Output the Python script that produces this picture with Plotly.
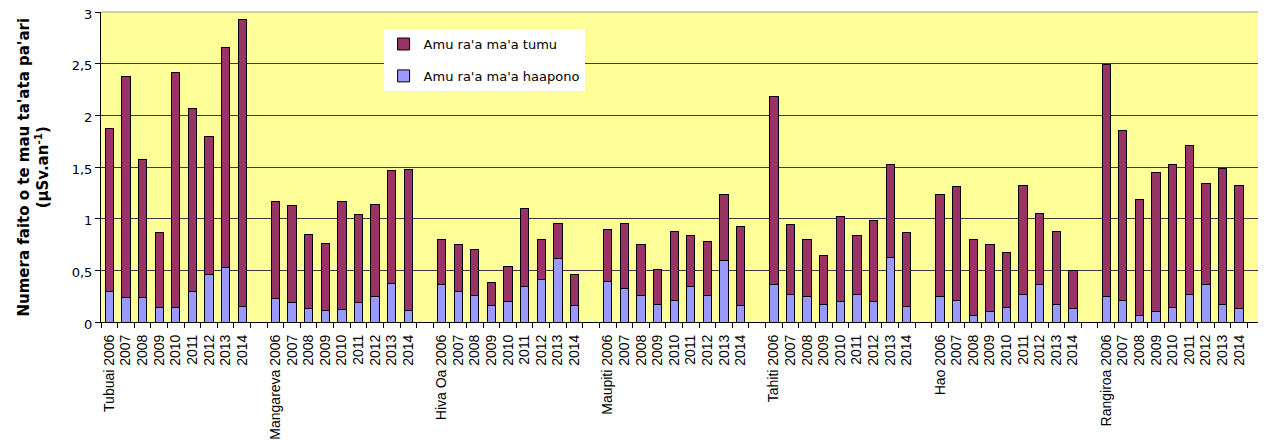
import plotly.graph_objects as go

sites = ["Tubuai", "Mangareva", "Hiva Oa", "Maupiti", "Tahiti", "Hao", "Rangiroa"]
years = ["2006", "2007", "2008", "2009", "2010", "2011", "2012", "2013", "2014"]

# Amu ra'a ma'a haapono (bottom, blue)
haapono = [
    [0.30, 0.24, 0.24, 0.14, 0.14, 0.30, 0.46, 0.53, 0.15],  # Tubuai
    [0.23, 0.19, 0.13, 0.11, 0.12, 0.19, 0.25, 0.37, 0.11],  # Mangareva
    [0.36, 0.30, 0.26, 0.16, 0.20, 0.34, 0.41, 0.61, 0.16],  # Hiva Oa
    [0.39, 0.32, 0.26, 0.17, 0.21, 0.34, 0.26, 0.60, 0.16],  # Maupiti
    [0.36, 0.27, 0.25, 0.17, 0.20, 0.27, 0.20, 0.62, 0.15],  # Tahiti
    [0.25, 0.21, 0.06, 0.10, 0.14, 0.27, 0.36, 0.17, 0.13],  # Hao
    [0.25, 0.21, 0.06, 0.10, 0.14, 0.27, 0.36, 0.17, 0.13],  # Rangiroa
]
# Amu ra'a ma'a tumu (top, maroon)
tumu = [
    [1.57, 2.14, 1.33, 0.73, 2.27, 1.77, 1.34, 2.13, 2.78],
    [0.94, 0.94, 0.72, 0.65, 1.05, 0.85, 0.89, 1.10, 1.37],
    [0.44, 0.45, 0.44, 0.22, 0.34, 0.76, 0.39, 0.34, 0.30],
    [0.51, 0.63, 0.49, 0.34, 0.67, 0.50, 0.52, 0.63, 0.76],
    [1.82, 0.67, 0.55, 0.47, 0.82, 0.57, 0.78, 0.90, 0.72],
    [0.98, 1.10, 0.74, 0.65, 0.53, 1.05, 0.69, 0.71, 0.37],
    [2.24, 1.64, 1.13, 1.35, 1.38, 1.44, 0.98, 1.32, 1.19],
]

slot = len(years) + 1  # one empty category after each site
xs, hv, tv, tickvals, ticktext = [], [], [], [], []
for g, site in enumerate(sites):
    for i, yr in enumerate(years):
        pos = g * slot + i
        xs.append(pos)
        hv.append(haapono[g][i])
        tv.append(tumu[g][i])
        tickvals.append(pos)
        ticktext.append(f"{site} {yr}" if i == 0 else yr)
n_cat = len(sites) * slot

FONT = "DejaVu Sans"
line = dict(color="black", width=1)

fig = go.Figure()
fig.add_trace(go.Bar(x=xs, y=hv, name="Amu ra'a ma'a haapono", legendgroup="a",
                     legendrank=2, marker=dict(color="#9999FF", line=line)))
fig.add_trace(go.Bar(x=xs, y=tv, name="Amu ra'a ma'a tumu", legendgroup="b",
                     legendrank=1, marker=dict(color="#993366", line=line)))

# the page body adds an 8px offset; the figure is sized to fill the rest
fig.update_layout(
    width=1258, height=435,
    barmode="stack", bargap=0.5,
    separators=", ",
    paper_bgcolor="white", plot_bgcolor="#FFFF99",
    margin=dict(l=93, r=2, t=4, b=121),
    font=dict(family=FONT, size=12, color="black"),
    legend=dict(x=0.243, y=0.945, xanchor="left", yanchor="top",
                bgcolor="white", borderwidth=0,
                traceorder="grouped", tracegroupgap=12,
                font=dict(size=13, family=FONT)),
    xaxis=dict(range=[-0.5, n_cat - 0.5], tickmode="array",
               tickvals=tickvals, ticktext=ticktext, tickangle=-90,
               ticks="outside", ticklen=6, tickcolor="rgba(0,0,0,0)",
               showgrid=False, zeroline=False, automargin=False,
               showline=True, linecolor="black", linewidth=1,
               tickfont=dict(size=14, family="Liberation Sans"),
               minor=dict(tickmode="array",
                          tickvals=[k + 0.5 for k in range(-1, n_cat)],
                          ticks="outside", ticklen=5, tickcolor="black",
                          showgrid=False)),
    yaxis=dict(range=[0, 3], dtick=0.5, showgrid=True, gridcolor="#3a3a3a",
               gridwidth=1, zeroline=False, showline=True, linecolor="black",
               ticks="outside", ticklen=5, tickcolor="black", automargin=False,
               ticklabeloverflow="allow", ticklabelshift=2,
               tickfont=dict(size=13)),
    annotations=[
        dict(text="<b>Numera faito o te mau ta'ata pa'ari<br>(µSv.an<sup>-1</sup>)</b>",
             xref="paper", yref="paper", x=-0.058, y=0.5, textangle=-90,
             xanchor="center", yanchor="middle", showarrow=False,
             font=dict(size=15, family=FONT)),
    ],
    shapes=[
        dict(type="line", xref="paper", yref="paper", x0=0, x1=1, y0=1, y1=1,
             line=dict(color="#999999", width=1)),
        dict(type="line", xref="paper", yref="paper", x0=1, x1=1, y0=0, y1=1,
             line=dict(color="#999999", width=1)),
    ],
)

fig.write_html("out.html")
